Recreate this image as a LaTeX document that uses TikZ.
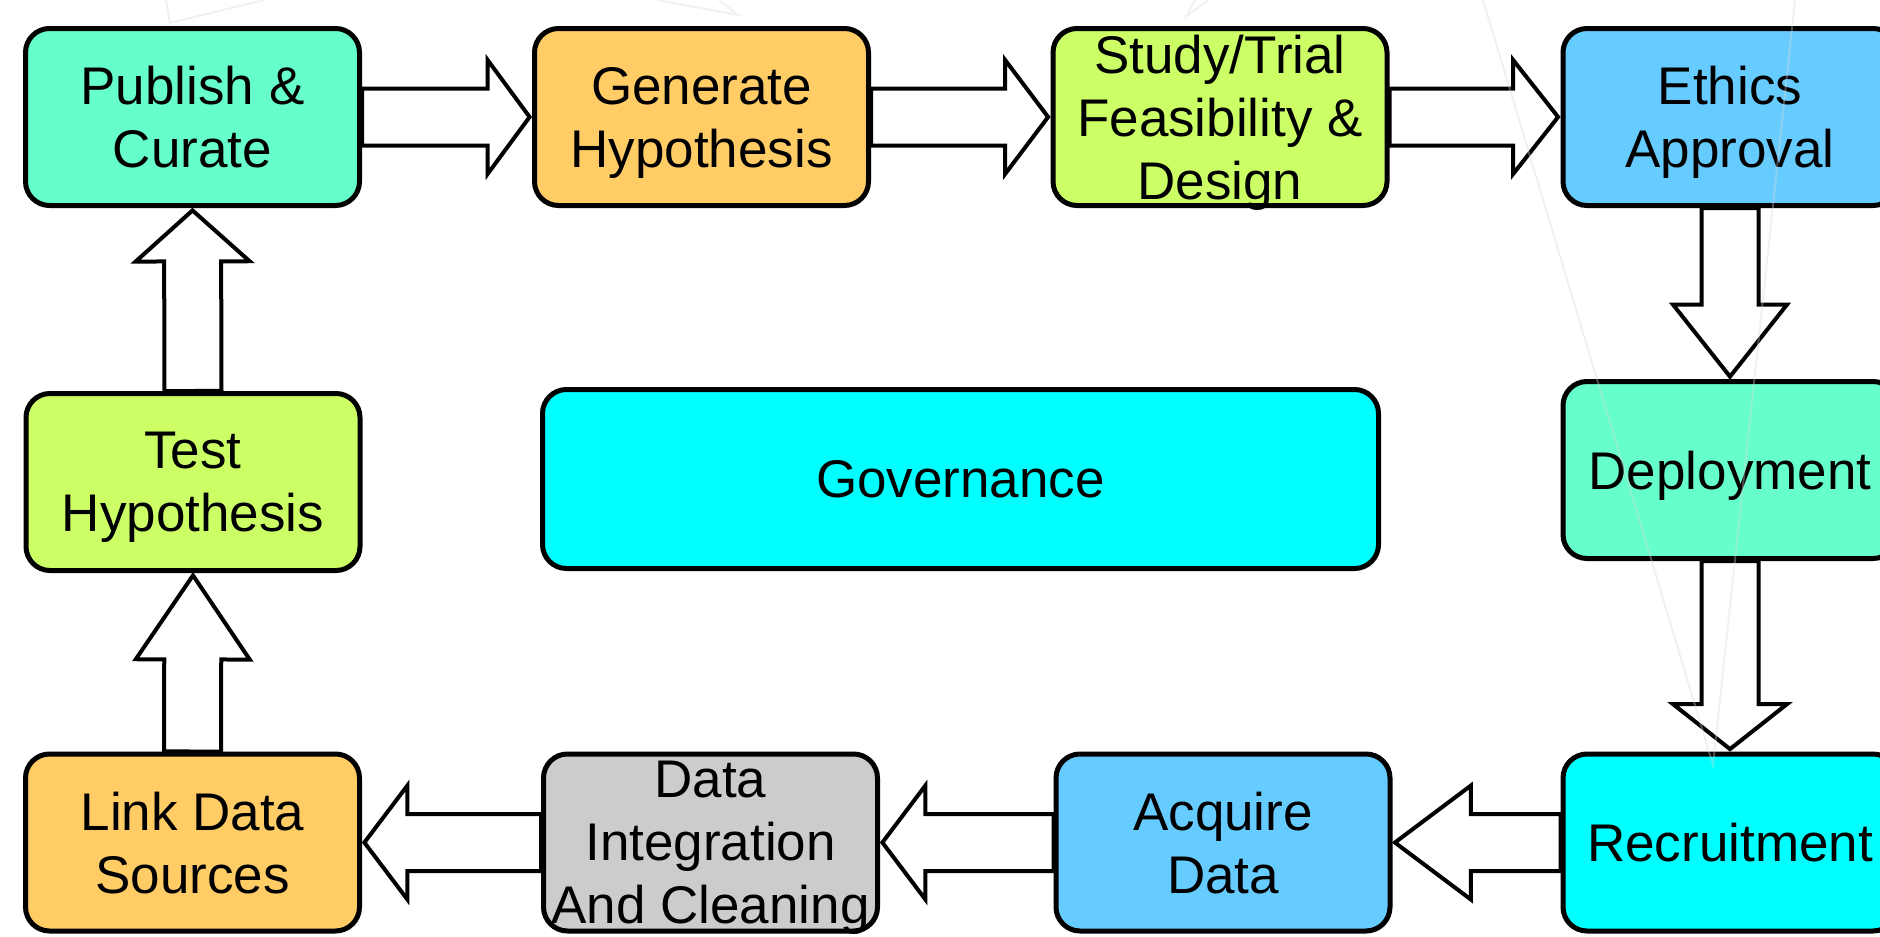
\documentclass[tikz,border=0pt]{standalone}
\usepackage{fontspec}
\setmainfont{Liberation Sans}
\usepackage{xcolor}
\definecolor{stagemint}{RGB}{102, 255, 204}
\definecolor{stageorange}{RGB}{255, 204, 102}
\definecolor{stagelime}{RGB}{204, 255, 102}
\definecolor{stageblue}{RGB}{102, 204, 255}
\definecolor{stagecyan}{RGB}{0, 255, 255}
\definecolor{stagegray}{RGB}{204, 204, 204}
\usetikzlibrary{calc, backgrounds}
\newcommand{\arrshaft}{14.25pt}
\newcommand{\arrhead}{28.5pt}
\newcommand{\blockarrow}[3]{%
  \coordinate (tip) at ($(#2)!1.2pt!(#1)$);
  \coordinate (neck) at ($(tip)!#3!(#1)$);
  \filldraw[blockarrow] ($(#1)!\arrshaft!-90:(tip)$) -- ($(neck)!\arrshaft!90:(#1)$)
    -- ($(neck)!\arrhead!90:(#1)$) -- (tip) -- ($(neck)!\arrhead!-90:(#1)$)
    -- ($(neck)!\arrshaft!-90:(#1)$) -- ($(#1)!\arrshaft!90:(tip)$) -- cycle;
}

\begin{document}
\begin{tikzpicture}[x=0.5pt, y=-0.5pt,
    stage/.style={draw=black, line width=2.5pt, rounded corners=12pt, inner sep=0pt,
      minimum width=167pt, minimum height=88.5pt, align=center, text depth=0pt,
      font=\fontsize{26.5}{31.5}\selectfont},
    blockarrow/.style={draw=black, fill=white, line width=2pt, line join=miter},
    watermark/.style={draw=gray!30, line width=1pt, opacity=0.35}]
      \useasboundingbox (0,0) rectangle (1880,937);

      \coordinate (P) at (192.5, 117);
      \coordinate (G) at (701.5, 117);
      \coordinate (S) at (1220, 117);
      \coordinate (E) at (1730, 117);
      \coordinate (T) at (193, 482);
      \coordinate (V) at (960.5, 479);
      \coordinate (D) at (1730, 470);
      \coordinate (L) at (192.5, 842.5);
      \coordinate (I) at (710.5, 842.5);
      \coordinate (A) at (1223, 842.5);
      \coordinate (R) at (1730, 842.5);

      \node[stage, fill=stagemint] (pub) at (P) {Publish \&\\Curate};
      \node[stage, fill=stageorange] (gen) at (G) {Generate\\Hypothesis};
      \node[stage, fill=stagelime] (study) at (S) {Study/Trial\\Feasibility \&\\Design};
      \node[stage, fill=stageblue] (ethics) at (E) {Ethics\\Approval};
      \node[stage, fill=stagelime] (test) at (T) {Test\\Hypothesis};
      \node[stage, fill=stagecyan, minimum width=418pt, minimum height=89.5pt] (gov) at (V) {Governance};
      \node[stage, fill=stagemint] (deploy) at (D) {Deployment};
      \node[stage, fill=stageorange] (link) at (L) {Link Data\\Sources};
      \node[stage, fill=stagegray] (integ) at (I) {Data\\Integration\\And Cleaning};
      \node[stage, fill=stageblue] (acquire) at (A) {Acquire\\Data};
      \node[stage, fill=stagecyan] (recruit) at (R) {Recruitment};

      \begin{scope}[on background layer]
        \fill[white] (0,0) rectangle (1880,937);
        \blockarrow{pub.east}{gen.west}{21pt}
        \blockarrow{gen.east}{study.west}{21.5pt}
        \blockarrow{study.east}{ethics.west}{22.5pt}
        \blockarrow{ethics.south}{deploy.north}{36pt}
        \blockarrow{deploy.south}{recruit.north}{22.5pt}
        \blockarrow{recruit.west}{acquire.east}{38pt}
        \blockarrow{acquire.west}{integ.east}{21.5pt}
        \blockarrow{integ.west}{link.east}{21.5pt}
        \blockarrow{link.north}{test.south}{42pt}
        \blockarrow{test.north}{pub.south}{25.5pt}
      \end{scope}

      \draw[watermark] (166,0) -- (170,23) -- (264,0);
      \draw[watermark] (657,0) -- (738,15) -- (719,0);
      \draw[watermark] (1195,0) -- (1186,17) -- (1208,0);
      \draw[watermark] (1483,0) -- (1713,765) -- (1795,0);
\end{tikzpicture}
\end{document}
